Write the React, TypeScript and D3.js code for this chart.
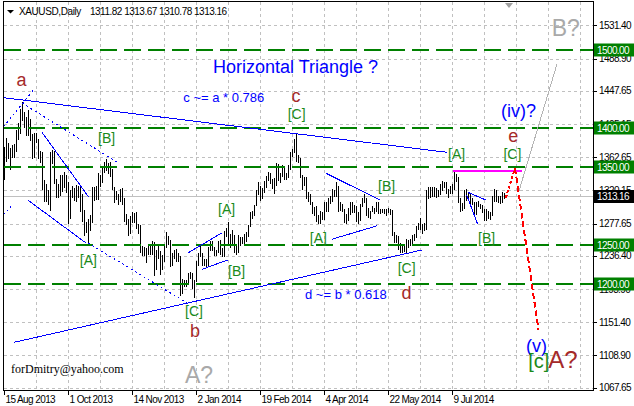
import React from "react";
import * as d3 from "d3";

// ---------- DATA ----------
const barHighs = [1376,1387, 1381,1375,1378,1380,1398, 1406,1425,1434,1420,1414, 1423,1412,1392,1394, 1394,1386,1371,1369,1333, 1328,1321,1369,1372,1371, 1335,1328,1340,1340,1344, 1340, 1331,1321,1326,1323, 1327,1326,1324,1316,1295, 1280,1283,1289,1325,1324, 1326,1343,1340,1352,1357, 1361,1355,1357,1348,1325, 1320,1316,1322,1323,1310, 1290,1283,1287,1292,1291, 1292,1277,1276,1249,1248, 1247,1250,1252,1256, 1254,1244,1250,1242,1238, 1251,1267,1262,1257,1240, 1244,1245,1240,1236,1207, 1206,1206,1214,1216, 1215,1206, 1230,1240, 1251,1240,1233,1232,1248, 1255,1255,1248,1244,1255, 1257,1246,1268,1272, 1280,1264,1269,1263,1250, 1263,1261,1260,1264,1267, 1276,1293,1294,1302,1321, 1331,1326,1323,1332, 1339,1344,1343,1335,1336, 1355,1354,1342,1353,1352, 1342,1353,1370,1373,1386, 1392,1366,1362,1340,1338, 1338,1318,1315,1306,1299, 1300,1289,1294,1292,1306, 1306,1311,1313,1322,1321, 1331,1326,1306,1303, 1296,1290,1298,1305, 1306,1302,1300,1293,1303, 1311,1316,1311,1298,1294, 1300,1298,1306,1305,1297, 1297,1297,1297,1298,1296, 1295,1267,1263,1262, 1253,1249,1250,1258,1257, 1258,1263,1264,1275,1279, 1285,1277,1278,1321,1325, 1325,1325,1325,1323,1321, 1328,1332,1331,1331, 1322,1326,1329,1345,1341, 1338,1311,1304,1321,1322, 1318,1316,1311,1305,1305, 1307,1303,1301,1297,1297, 1294,1292,1313,1322,1321, 1313,1313,1318,1317,1313.67];

const barLows = [1334,1357, 1361,1346,1362,1362,1370, 1385,1393,1409,1400,1390, 1390,1384,1360,1362, 1381,1360,1355,1321,1305, 1306,1302,1294,1354,1328, 1311,1310,1313,1318,1323, 1317, 1277,1283,1311,1307, 1306,1311,1292,1280,1262, 1266,1251,1268,1279,1307, 1308,1308,1324,1330,1342, 1345,1341,1338,1321,1304, 1308,1301,1305,1302,1280, 1276,1262,1265,1279,1278, 1271,1265,1240,1236,1236, 1227,1238,1237,1238, 1211,1218,1232,1212,1218, 1228,1247,1250,1222,1224, 1233,1229,1228,1185,1188, 1196,1196,1202,1207, 1194,1182, 1203,1224, 1235,1224,1223,1221,1224, 1242,1242,1236,1236,1240, 1237,1235,1235,1260, 1250,1246,1250,1240,1238, 1240,1249,1252,1251,1254, 1260,1273,1284,1288,1300, 1314,1307,1309,1317, 1323,1332,1328,1322,1316, 1326,1332,1330,1337,1334, 1333,1336,1346,1363,1368, 1357,1355,1336,1321,1326, 1309,1306,1301,1290,1287, 1280,1277,1277,1282,1282, 1293,1293,1303,1305,1312, 1312,1293,1294,1292, 1279,1277,1281,1289, 1291,1291,1280,1277,1281, 1299,1304,1287,1285,1284, 1292,1290,1293,1290,1290, 1291,1290,1288,1291,1289, 1262,1253,1253,1244, 1240,1240,1241,1240,1247, 1249,1250,1256,1259,1269, 1270,1265,1268,1270,1309, 1310,1312,1312,1310,1312, 1314,1320,1323,1315, 1311,1315,1316,1321,1331, 1304,1292,1294,1296,1307, 1308,1303,1301,1288,1289, 1299,1296,1291,1281,1281, 1284,1282,1287,1305,1306, 1304,1303,1304,1309,1310.78];

const priceTicks = [1531.40, 1488.90, 1447.65, 1405.15, 1362.65, 1320.15, 1277.65, 1236.40, 1193.90, 1151.40, 1108.90, 1067.65];
const dateLabels = ["15 Aug 2013", "1 Oct 2013", "14 Nov 2013", "2 Jan 2014", "19 Feb 2014", "4 Apr 2014", "22 May 2014", "9 Jul 2014"];
const dateLabelBars = [0, 32, 64, 96, 128, 160, 192, 224];
const levelPrices = [1500, 1400, 1350, 1250, 1200];
const bidPrice = 1313.16;
const headerSymbol = "XAUUSD,Daily";
const headerOHLC = ["1311.82", "1313.67", "1310.78", "1313.16"];

// trend lines: [bar1, price1, bar2, price2]
const solidBlueLines = [
  [0, 1438.9, 221.5, 1369.0],
  [5, 1125.7, 208.9, 1243.9],
  [18.9, 1395.0, 42.2, 1312.2],
  [12.2, 1307.3, 41, 1252.9],
  [92.15, 1240.5, 108.85, 1265.7],
  [98.85, 1219.0, 111.75, 1231.1],
  [161, 1342.1, 188, 1307.9],
  [163.85, 1257.6, 186.65, 1275.0],
  [232.15, 1317.5, 241, 1307.9],
  [231.35, 1314.3, 236.85, 1276.8],
];
const dottedBlueLines = [
  [9, 1432.1, 56.5, 1356.6],
  [42, 1252.9, 91.5, 1176.1],
  [-0.35, 1401.4, 15.5, 1451.3],
  [-0.35, 1288.7, 3.4, 1299.5],
];
const magentaLine = [224.5, 1345.7, 258.85, 1345.7];
const redUpLine = [250.85, 1310.5, 255.5, 1348.9];
const redDownLine = [255.5, 1348.9, 267.25, 1141.5];
const grayProjection = [257.5, 1319.5, 276.5, 1482.1];

const bracketLabels = [
  { t: "[A]", i: 42.2, p: 1224.7 },
  { t: "[B]", i: 51.3, p: 1380.9 },
  { t: "[C]", i: 95, p: 1159.4 },
  { t: "[A]", i: 111.3, p: 1290.0 },
  { t: "[B]", i: 116.3, p: 1210.6 },
  { t: "[C]", i: 146.3, p: 1411.7 },
  { t: "[A]", i: 157.2, p: 1252.9 },
  { t: "[B]", i: 191.3, p: 1319.5 },
  { t: "[C]", i: 201.3, p: 1214.5 },
  { t: "[A]", i: 226.3, p: 1360.4 },
  { t: "[B]", i: 241.3, p: 1252.9 },
  { t: "[C]", i: 254.2, p: 1360.4 },
];
const waveLabels = [
  { t: "a", i: 8.75, p: 1453.9 },
  { t: "b", i: 95.5, p: 1132.5 },
  { t: "c", i: 146, p: 1433.8 },
  { t: "d", i: 201.3, p: 1181.2 },
  { t: "e", i: 254.65, p: 1382.6 },
];

export default function App() {
  const x = d3.scaleLinear().domain([0, 294.5]).range([4, 593]);
  const y = d3.scaleLinear().domain([1500, 1200]).range([50, 284.3]);
  const bx = (i: number) => Math.round(x(i)) + 0.5;

  const axisFont = { fontSize: 10, letterSpacing: -0.6 } as const;
  const gridBars = d3.range(16, 295, 16);
  const blue = "#0000ff";
  const wave = "#a52a2a";
  const green = "#1a8a1a";

  const seg = (l: number[], key: string, props: any) => (
    <line key={key} x1={x(l[0])} y1={y(l[1])} x2={x(l[2])} y2={y(l[3])} shapeRendering="crispEdges" {...props} />
  );

  return (
    <svg width={634} height={406} style={{ position: "absolute", left: 0, top: 0 }}
      fontFamily="'Liberation Sans', Arial, sans-serif">
      <defs>
        <clipPath id="plotClip"><rect x={4} y={2} width={589} height={388} /></clipPath>
      </defs>
      <rect x={0} y={0} width={634} height={406} fill="#fff" />
      <g clipPath="url(#plotClip)">
        {/* grid */}
        {priceTicks.map((p, k) => (
          <line key={"hg" + k} x1={4} x2={593} y1={Math.round(y(p)) + 0.5} y2={Math.round(y(p)) + 0.5}
            stroke="#c0c0c0" strokeDasharray="3,3" shapeRendering="crispEdges" />
        ))}
        {gridBars.map((b) => (
          <line key={"vg" + b} x1={bx(b)} x2={bx(b)} y1={2} y2={390}
            stroke="#c0c0c0" strokeDasharray="3,3" shapeRendering="crispEdges" />
        ))}
        {/* bid line */}
        <line x1={4} x2={593} y1={Math.round(y(bidPrice)) + 0.5} y2={Math.round(y(bidPrice)) + 0.5}
          stroke="#c0c0c0" shapeRendering="crispEdges" />
        {/* bars */}
        {barHighs.map((h, i) => (
          <line key={"b" + i} x1={bx(i)} x2={bx(i)} y1={y(h)} y2={y(barLows[i])}
            stroke="#000" strokeWidth={1} shapeRendering="crispEdges" />
        ))}
        {/* level lines */}
        {levelPrices.map((p) => (
          <line key={"lv" + p} x1={4} x2={593} y1={Math.round(y(p))} y2={Math.round(y(p))}
            stroke="#008000" strokeWidth={2} strokeDasharray="17,7" shapeRendering="crispEdges" />
        ))}
        {/* trend lines */}
        {solidBlueLines.map((l, k) => seg(l, "sb" + k, { stroke: blue, strokeWidth: 1 }))}
        {dottedBlueLines.map((l, k) => seg(l, "db" + k, { stroke: blue, strokeWidth: 1, strokeDasharray: "2,3" }))}
        {seg(magentaLine, "mg", { stroke: "#ff00ff", strokeWidth: 2 })}
        {seg(grayProjection, "gp", { stroke: "#b4b4b4", strokeWidth: 1 })}
        {seg(redUpLine, "ru", { stroke: "#ff0000", strokeWidth: 2, strokeDasharray: "3,2" })}
        {seg(redDownLine, "rd", { stroke: "#ff0000", strokeWidth: 2, strokeDasharray: "6,3" })}

        {/* texts */}
        <text x={x(104.5)} y={y(1470.9)} fill={blue} fontSize={18}>Horizontal Triangle ?</text>
        <text x={x(89.65)} y={y(1433.0)} fill={blue} fontSize={13}>c ~= a * 0.786</text>
        <text x={x(150.5)} y={y(1181.2)} fill={blue} fontSize={13}>d ~= b * 0.618</text>
        {bracketLabels.map((l, k) => (
          <text key={"bl" + k} x={x(l.i)} y={y(l.p)} fill={green} fontSize={14} textAnchor="middle">{l.t}</text>
        ))}
        {waveLabels.map((l, k) => (
          <text key={"wl" + k} x={x(l.i)} y={y(l.p)} fill={wave} fontSize={18} textAnchor="middle">{l.t}</text>
        ))}
        <text x={x(257.2)} y={y(1414.2)} fill={blue} fontSize={18} textAnchor="middle">(iv)?</text>
        <text x={x(266.3)} y={y(1113.3)} fill={blue} fontSize={18} textAnchor="middle">(v)</text>
        <text x={x(262.15)} y={y(1092.8)} fill={green} fontSize={20}>[c]</text>
        <text x={x(272.15)} y={y(1092.8)} fill={wave} fontSize={24}>A?</text>
        <text x={x(273.85)} y={y(1517.9)} fill="#a9a9a9" fontSize={23}>B?</text>
        <text x={x(90.5)} y={y(1073.6)} fill="#a9a9a9" fontSize={23}>A?</text>
        <text x={11} y={373} fill="#000" fontSize={12} fontFamily="'Liberation Serif', 'Times New Roman', serif">forDmitry@yahoo.com</text>
      </g>

      {/* chart shift marker */}
      <polygon points={`${x(250.5)},3 ${x(254.5)},3 ${x(252.5)},8`} fill="#a0a0a0" />

      {/* frame */}
      <rect x={3.5} y={1.5} width={590} height={389} fill="none" stroke="#000" shapeRendering="crispEdges" />

      {/* price axis */}
      {priceTicks.map((p, k) => (
        <g key={"pt" + k}>
          <line x1={593} x2={597} y1={Math.round(y(p)) + 0.5} y2={Math.round(y(p)) + 0.5} stroke="#000" shapeRendering="crispEdges" />
          <text x={599} y={y(p) + 3.5} fill="#000" {...axisFont}>{p.toFixed(2)}</text>
        </g>
      ))}
      {levelPrices.map((p) => (
        <g key={"lb" + p}>
          <rect x={594} y={Math.round(y(p)) - 6.5} width={40} height={13} fill="#008000" />
          <text x={597} y={y(p) + 3.5} fill="#fff" {...axisFont}>{p.toFixed(2)}</text>
        </g>
      ))}
      <rect x={594} y={Math.round(y(bidPrice)) - 6} width={40} height={13} fill="#000" />
      <text x={597} y={y(bidPrice) + 4} fill="#fff" {...axisFont}>{bidPrice.toFixed(2)}</text>

      {/* date axis */}
      {dateLabelBars.map((b, k) => (
        <g key={"dt" + k}>
          <line x1={bx(b)} x2={bx(b)} y1={390} y2={395} stroke="#000" shapeRendering="crispEdges" />
          <text x={bx(b) + 1} y={403} fill="#000" {...axisFont}>{dateLabels[k]}</text>
        </g>
      ))}

      {/* header */}
      <polygon points="7,10 14,10 10.5,13.5" fill="#000" />
      <text x={19} y={15} fill="#000" fontSize={10} letterSpacing={-0.4}>{headerSymbol}</text>
      <text x={90} y={15} fill="#000" fontSize={10} letterSpacing={-0.5}>{headerOHLC.join(" ")}</text>
    </svg>
  );
}
